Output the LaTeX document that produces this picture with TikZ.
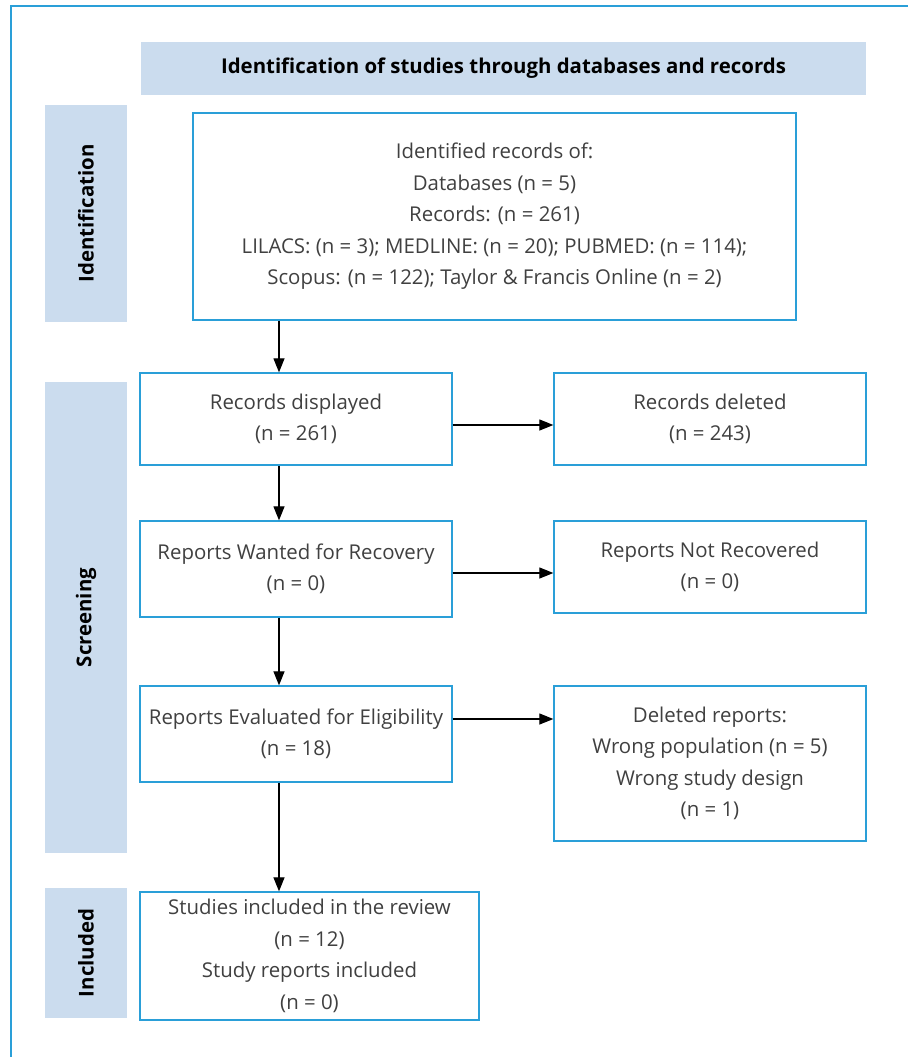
\documentclass[tikz,border=0pt]{standalone}
\usepackage{fontspec}
\setmainfont{Open Sans}
\usetikzlibrary{arrows.meta,positioning}
\definecolor{frameblue}{HTML}{2A9FD8}
\definecolor{boxblue}{HTML}{2A9FD8}
\definecolor{bandfill}{HTML}{CBDCEE}
\definecolor{txtgray}{HTML}{404040}
\begin{document}
\begin{tikzpicture}[x=1pt,y=-1pt,
  flowbox/.style={draw=boxblue,line width=1.3pt,fill=white,inner sep=0pt,align=center,
    text=txtgray,font=\fontsize{20.4}{31.5}\selectfont},
  band/.style={fill=bandfill,inner sep=0pt,align=center,font=\bfseries\fontsize{20.4}{24}\selectfont,text=black},
  arr/.style={line width=1.2pt,-{Triangle[length=14pt,width=11pt]}}
]
\useasboundingbox (0,0) rectangle (908,1057);
\draw[frameblue,line width=1.5pt] (11,1057) -- (11,6) -- (908,6);
% header
\node[band,minimum width=725pt,minimum height=53pt] (hdr) at (503.5,68.5) {Identification of studies through databases and records};
% side bands
\node[band,minimum width=82pt,minimum height=217pt] (sid) at (86,213.5) {};
\node[band,rotate=90] (sidt) at (sid.center) {Identification};
\node[band,minimum width=82pt,minimum height=471pt] (ssc) at (86,617.5) {};
\node[band,rotate=90] (ssct) at (ssc.center) {Screening};
\node[band,minimum width=82pt,minimum height=130pt] (sin) at (86,953) {};
\node[band,rotate=90] (sint) at (sin.center) {Included};
% boxes
\node[flowbox,minimum width=603pt,minimum height=207pt] (ident) at (494.5,216.5)
  {Identified records of:\\Databases (n = 5)\\Records: (n = 261)\\LILACS: (n = 3); MEDLINE: (n = 20); PUBMED: (n = 114);\\Scopus: (n = 122); Taylor \& Francis Online (n = 2)};
\node[flowbox,minimum width=312pt,minimum height=92pt] (disp) at (296,419) {Records displayed\\(n = 261)};
\node[flowbox,minimum width=312pt,minimum height=92pt] (del) at (710,419) {Records deleted\\(n = 243)};
\node[flowbox,minimum width=312pt,minimum height=96pt] (want) at (296,569) {Reports Wanted for Recovery\\(n = 0)};
\node[flowbox,minimum width=312pt,minimum height=92pt] (notrec) at (710,567) {Reports Not Recovered\\(n = 0)};
\node[flowbox,minimum width=312pt,minimum height=96pt] (eval) at (296,734) {Reports Evaluated for Eligibility\\(n = 18)};
\node[flowbox,minimum width=312pt,minimum height=155pt] (delrep) at (710,763.5) {Deleted reports:\\Wrong population (n = 5)\\Wrong study design\\(n = 1)};
\node[flowbox,minimum width=339pt,minimum height=128pt] (incl) at (309.5,956) {Studies included in the review\\(n = 12)\\Study reports included\\(n = 0)};
% arrows
\coordinate (ax) at (279,0);
\draw[arr] (ident.south -| ax) -- (disp.north -| ax);
\draw[arr] (disp.south -| ax) -- (want.north -| ax);
\draw[arr] (want.south -| ax) -- (eval.north -| ax);
\draw[arr] (eval.south -| ax) -- (incl.north -| ax);
\coordinate (h1) at (0,425);
\coordinate (h2) at (0,573);
\coordinate (h3) at (0,719);
\draw[arr] (disp.east |- h1) -- (del.west |- h1);
\draw[arr] (want.east |- h2) -- (notrec.west |- h2);
\draw[arr] (eval.east |- h3) -- (delrep.west |- h3);
\end{tikzpicture}
\end{document}
